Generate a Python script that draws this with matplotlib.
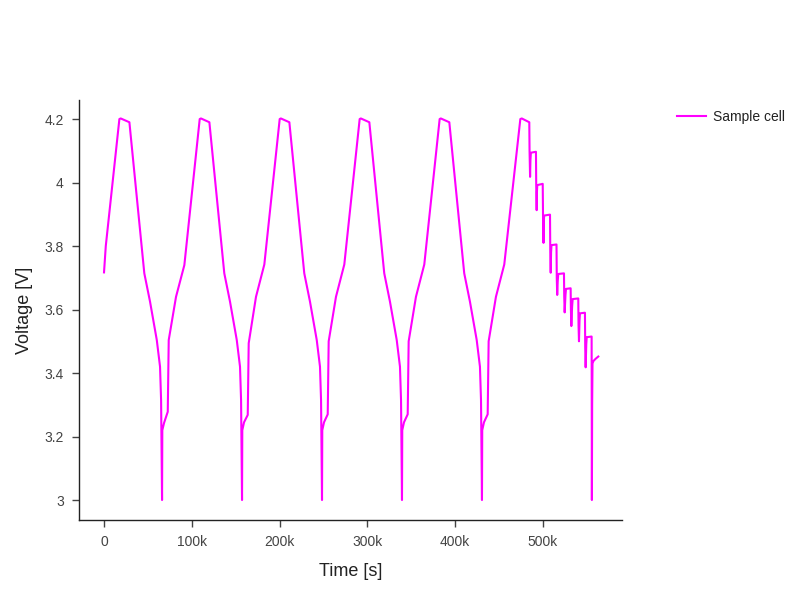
import matplotlib
matplotlib.use("Agg")
import matplotlib.pyplot as plt
from matplotlib.ticker import FuncFormatter

plt.rcParams['font.family'] = ['Liberation Sans', 'DejaVu Sans']

# time in thousands of seconds, voltage in V
time_k = [
    # cycle 1
    0.0, 2.0, 17.5, 19.0, 28.9, 45.9, 52.4, 60.1, 63.8, 65.0, 66.1,
    66.4, 68.4, 72.6, 73.7, 82.0, 91.5,
    # cycle 2
    109.0, 110.4, 120.0, 137.0, 143.5, 151.2, 154.9, 156.1, 157.2,
    157.5, 159.5, 163.7, 164.8, 173.1, 182.6,
    # cycle 3
    200.1, 201.4, 211.1, 228.1, 234.6, 242.3, 246.0, 247.2, 248.3,
    248.6, 250.6, 254.8, 255.9, 264.2, 273.7,
    # cycle 4
    291.2, 292.5, 302.2, 319.2, 325.7, 333.4, 337.1, 338.3, 339.4,
    339.7, 341.7, 345.9, 347.0, 355.3, 364.8,
    # cycle 5
    382.3, 383.6, 393.3, 410.3, 416.8, 424.5, 428.2, 429.4, 430.5,
    430.8, 432.8, 437.0, 438.1, 446.4, 455.9,
    # cycle 6 charge + pulses
    474.2, 475.8, 484.4,
    484.7, 485.3, 485.7, 486.2, 492.0,
    492.3, 492.8, 493.1, 493.5, 499.7,
    500.1, 500.6, 500.9, 501.3, 508.0,
    508.3, 508.8, 509.2, 509.7, 515.4,
    515.7, 516.2, 516.8, 517.4, 523.9,
    524.2, 524.7, 525.6, 526.2, 531.5,
    531.8, 532.3, 533.2, 533.8, 540.2,
    540.5, 541.0, 541.6, 542.1, 547.8,
    548.1, 548.6, 549.3, 549.8, 555.4,
    555.7, 556.0, 556.4, 557.5, 560.0, 563.0,
]
voltage = [
    3.717, 3.80, 4.200, 4.202, 4.190, 3.714, 3.625, 3.504, 3.420, 3.315, 3.000,
    3.220, 3.243, 3.278, 3.504, 3.640, 3.740,
    4.200, 4.202, 4.190, 3.714, 3.625, 3.504, 3.420, 3.315, 3.000,
    3.220, 3.245, 3.268, 3.494, 3.640, 3.742,
    4.200, 4.202, 4.190, 3.714, 3.625, 3.504, 3.420, 3.315, 3.000,
    3.220, 3.245, 3.270, 3.500, 3.640, 3.742,
    4.200, 4.202, 4.190, 3.714, 3.625, 3.504, 3.420, 3.315, 3.000,
    3.220, 3.245, 3.270, 3.500, 3.640, 3.742,
    4.200, 4.202, 4.190, 3.714, 3.625, 3.504, 3.420, 3.315, 3.000,
    3.220, 3.245, 3.270, 3.500, 3.640, 3.742,
    4.200, 4.202, 4.190,
    4.100, 4.018, 4.070, 4.094, 4.097,
    3.990, 3.913, 3.970, 3.992, 3.996,
    3.880, 3.810, 3.870, 3.896, 3.899,
    3.780, 3.716, 3.780, 3.803, 3.805,
    3.700, 3.646, 3.690, 3.712, 3.714,
    3.640, 3.591, 3.645, 3.665, 3.667,
    3.600, 3.548, 3.610, 3.633, 3.635,
    3.550, 3.500, 3.565, 3.588, 3.590,
    3.480, 3.418, 3.490, 3.513, 3.515,
    3.000, 3.300, 3.430, 3.438, 3.445, 3.452,
]
time_s = [t * 1000 for t in time_k]

fig = plt.figure(figsize=(8, 6), dpi=100)
ax = fig.add_axes([0.09875, 0.1333, 0.67875, 0.7])

ax.plot(time_s, voltage, color='#ff00ff', linewidth=1.5, label='Sample cell')

ax.set_xlim(-28500, 590000)
ax.set_ylim(2.937, 4.26)
ax.set_xticks([0, 100000, 200000, 300000, 400000, 500000])
ax.xaxis.set_major_formatter(FuncFormatter(lambda v, p: '0' if v == 0 else '%dk' % (v / 1000)))
ax.set_yticks([3, 3.2, 3.4, 3.6, 3.8, 4, 4.2])
ax.yaxis.set_major_formatter(FuncFormatter(lambda v, p: ('%.1f' % v).rstrip('0').rstrip('.')))

for side in ['top', 'right']:
    ax.spines[side].set_visible(False)
for side in ['left', 'bottom']:
    ax.spines[side].set_color('#222222')
    ax.spines[side].set_linewidth(1)
ax.tick_params(direction='out', length=5, width=1, color='#444444',
               labelcolor='#444444', labelsize=10, pad=6)

ax.set_xlabel('Time [s]', fontsize=13, color='#222222', labelpad=10)
ax.set_ylabel('Voltage [V]', fontsize=13, color='#222222', labelpad=8)

leg = ax.legend(loc='upper left', bbox_to_anchor=(0.839, 0.826), bbox_transform=fig.transFigure,
                frameon=False, fontsize=10, handlelength=2.1, handletextpad=0.5, borderaxespad=0)
for txt in leg.get_texts():
    txt.set_color('#222222')

fig.savefig('out.png', dpi=100)
